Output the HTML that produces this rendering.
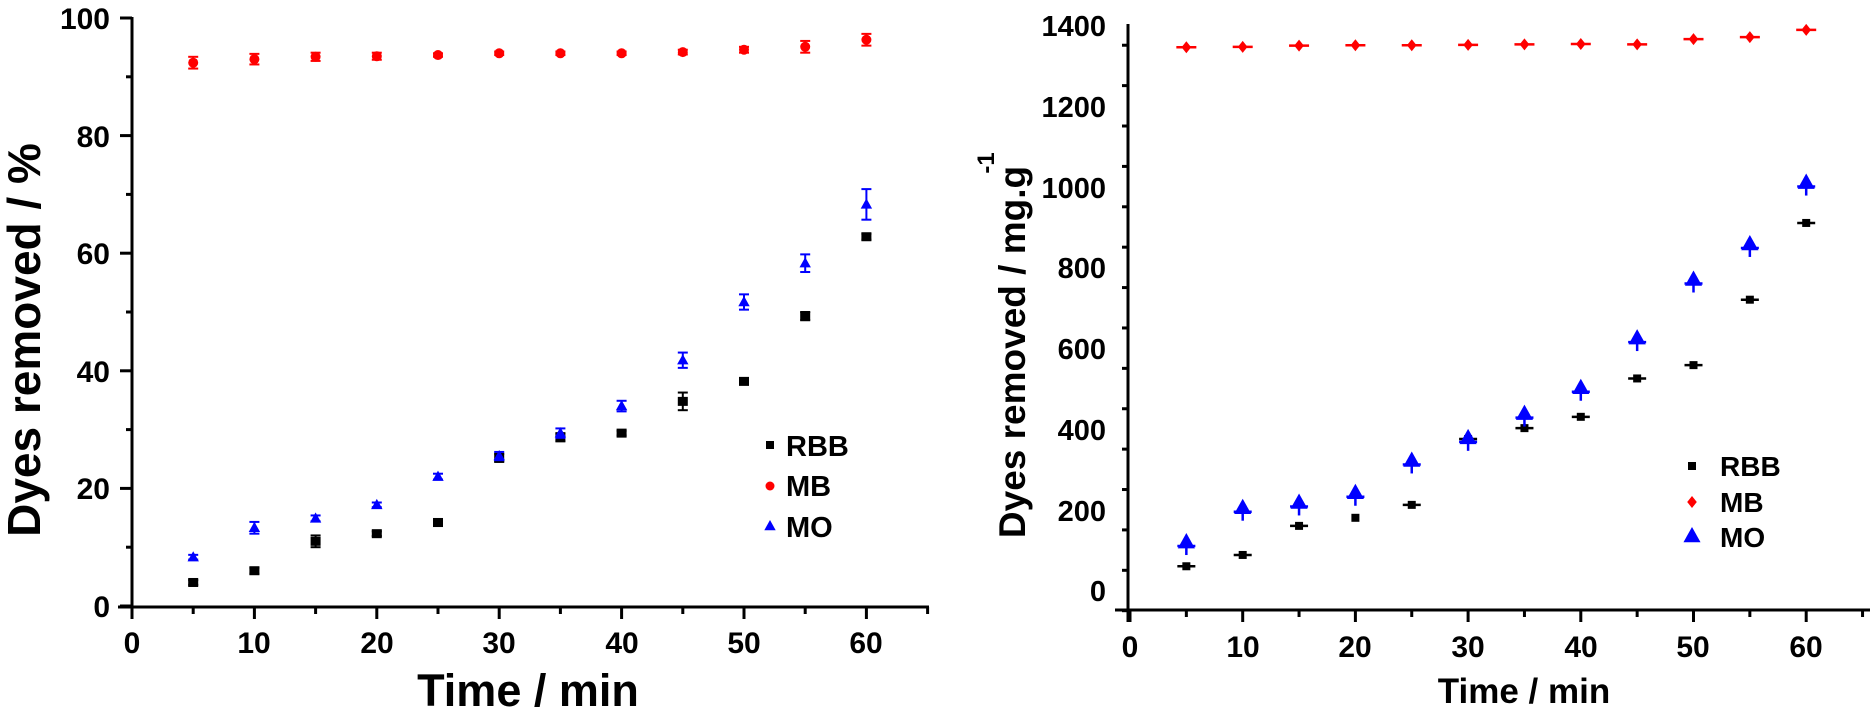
<!DOCTYPE html>
<html><head><meta charset="utf-8"><style>
html,body{margin:0;padding:0;background:#fff;}
svg text{font-family:"Liberation Sans",Arial,sans-serif;font-weight:bold;fill:#000;}
</style></head><body>
<svg id="s" width="1875" height="709" viewBox="0 0 1875 709" xmlns="http://www.w3.org/2000/svg">
<g id="axes" stroke="#000" stroke-width="3" fill="none">
<line x1="132" y1="17" x2="132" y2="619"/>
<line x1="118" y1="607" x2="929" y2="607"/>
<line x1="1128" y1="24" x2="1128" y2="622"/>
<line x1="1115" y1="610" x2="1870" y2="610"/>
</g>
<g font-size="30" text-anchor="end">
<text x="110" y="29">100</text>
<text x="110" y="147">80</text>
<text x="110" y="264">60</text>
<text x="110" y="382">40</text>
<text x="110" y="499">20</text>
<text x="110" y="617">0</text>
</g>
<g font-size="30" text-anchor="middle">
<text x="132" y="653">0</text><text x="254" y="653">10</text><text x="377" y="653">20</text><text x="499" y="653">30</text><text x="622" y="653">40</text><text x="744" y="653">50</text><text x="866" y="653">60</text>
</g>
<text font-size="45" x="528" y="706" text-anchor="middle">Time / min</text>
<text font-size="46" transform="translate(40,340) rotate(-90)" text-anchor="middle">Dyes removed / %</text>
<g font-size="29" text-anchor="end">
<text x="1106" y="36">1400</text><text x="1106" y="117">1200</text><text x="1106" y="198">1000</text><text x="1106" y="278">800</text><text x="1106" y="359">600</text><text x="1106" y="440">400</text><text x="1106" y="521">200</text><text x="1106" y="601">0</text>
</g>
<g font-size="30" text-anchor="middle">
<text x="1130" y="657">0</text><text x="1243" y="657">10</text><text x="1355" y="657">20</text><text x="1468" y="657">30</text><text x="1581" y="657">40</text><text x="1693" y="657">50</text><text x="1806" y="657">60</text>
</g>
<text font-size="35" x="1524" y="703" text-anchor="middle">Time / min</text>
<text font-size="37" transform="translate(1025,352) rotate(-90)" text-anchor="middle">Dyes removed / mg.g</text>
<text font-size="24" transform="translate(994,163) rotate(-90)" text-anchor="middle">-1</text>
<g font-size="29">
<text x="786" y="456">RBB</text><text x="786" y="496">MB</text><text x="786" y="537">MO</text>
</g>
<g font-size="28">
<text x="1720" y="476">RBB</text><text x="1720" y="512">MB</text><text x="1720" y="547">MO</text>
</g>
<g id="d"></g>
</svg>
<script>
var ax=document.getElementById('axes'),d=document.getElementById('d'),h='';
function L(a,b,c,e,col,w){return '<line x1="'+a+'" y1="'+b+'" x2="'+c+'" y2="'+e+'" stroke="'+col+'" stroke-width="'+(w||2)+'"/>';}
var t='';
for(var v=0;v<=100;v+=10){var y=606-5.88*v;t+=L(v%20?126:120,y,132,y,'#000',3);}
for(var x=0;x<=65;x+=5){var X=132+12.24*x;t+=L(X,607,X,x%10?614:619,'#000',3);}
for(var v=-50;v<=1400;v+=100){var y=590.5-0.4039*v;t+=L(v%200?1122:1117,y,1128,y,'#000',3);}
for(var x=0;x<=65;x+=5){var X=1130+11.27*x;t+=L(X,610,X,x%10?617:622,'#000',3);}
ax.insertAdjacentHTML('beforeend',t);
var T=[5,10,15,20,25,30,35,40,45,50,55,60];
var lR=[4,6,11,12.3,14.2,25.2,28.7,29.4,34.8,38.2,49.3,62.8],lRe=[.4,.5,1,.4,.6,.7,.7,.4,1.5,.4,.7,.5];
var lO=[8.3,13.3,14.9,17.2,22,25.5,29.4,34,41.8,51.7,58.3,68.3],lOe=[.4,1,.5,.4,.5,.7,.8,.9,1.3,1.3,1.5,2.6];
var lB=[92.4,93,93.4,93.5,93.7,94,94,94,94.2,94.6,95.1,96.3],lBe=[1,.9,.7,.6,.3,.3,.3,.3,.4,.5,1,1];
function eb(X,Y,e,col){return L(X,Y-e,X,Y+e,col,2)+L(X-5,Y-e,X+5,Y-e,col,2)+L(X-5,Y+e,X+5,Y+e,col,2);}
function tri(X,Y,s,col){return '<polygon points="'+X+','+(Y-s)+' '+(X-s*0.95)+','+(Y+s*0.7)+' '+(X+s*0.95)+','+(Y+s*0.7)+'" fill="'+col+'"/>';}
function dia(X,Y,s,col){return '<polygon points="'+X+','+(Y-s)+' '+(X+s*0.8)+','+Y+' '+X+','+(Y+s)+' '+(X-s*0.8)+','+Y+'" fill="'+col+'"/>';}
for(var i=0;i<12;i++){
 var X=132+12.24*T[i];
 var y=606-5.88*lR[i];h+=eb(X,y,lRe[i]*5.88,'#000')+'<rect x="'+(X-5)+'" y="'+(y-4.5)+'" width="10" height="9" fill="#000"/>';
 y=606-5.88*lO[i];h+=eb(X,y,lOe[i]*5.88,'#00f')+tri(X,y,6,'#00f');
 y=606-5.88*lB[i];h+=eb(X,y,lBe[i]*5.88,'#f00')+'<circle cx="'+X+'" cy="'+y+'" r="5" fill="#f00"/>';
}
var rR=[60,88,160,180,212,375,402,430,525,558,720,910];
var rO=[120,205,218,242,322,378,438,502,625,770,858,1010];
var rB=[1345,1346,1349,1350,1350,1351,1352,1353,1352,1365,1370,1388];
for(var i=0;i<12;i++){
 var X=1130+11.27*T[i];
 var y=590.5-0.4039*rR[i];h+=(i==3?'':L(X-9,y,X+9,y,'#000',2.5))+'<rect x="'+(X-4)+'" y="'+(y-4)+'" width="8" height="8" fill="#000"/>';
 y=590.5-0.4039*rO[i];h+=L(X,y,X,y+13,'#00f',2.5)+L(X-9,y+4,X+9,y+4,'#00f',2.5)+tri(X,y,9,'#00f');
 y=590.5-0.4039*rB[i];h+=L(X-10,y,X+10,y,'#f00',2.5)+dia(X,y,6,'#f00');
}
h+='<rect x="766" y="441" width="8" height="8" fill="#000"/>'+'<circle cx="770" cy="486" r="4.5" fill="#f00"/>'+tri(770,526,6,'#00f');
h+='<rect x="1688" y="462" width="8" height="8" fill="#000"/>'+dia(1692,502,6,'#f00')+tri(1692,536,9,'#00f');
d.innerHTML=h;
</script>
</body></html>
